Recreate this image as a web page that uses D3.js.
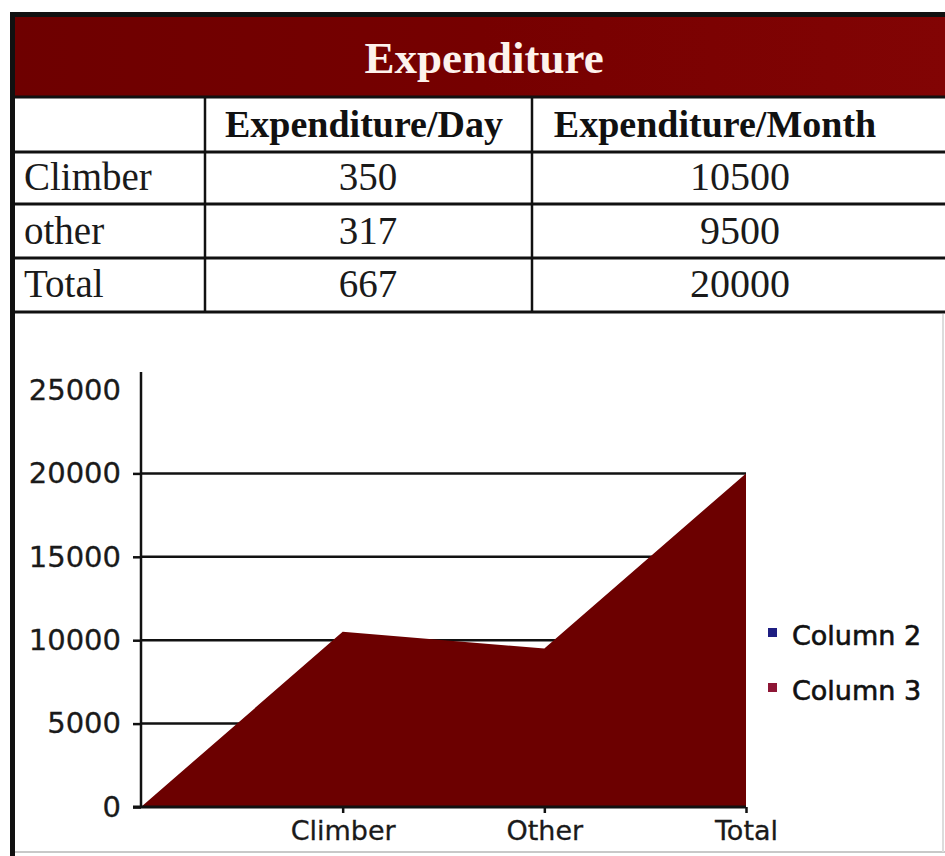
<!DOCTYPE html>
<html>
<head>
<meta charset="utf-8">
<script src="https://cdn.jsdelivr.net/npm/d3@7/dist/d3.min.js"></script>
<style>
  body { margin: 0; background: #fff; }
  svg { display: block; }
</style>
</head>
<body>
<div id="root"></div>
<script>
// table contents
const title = "Expenditure";
const headers = ["", "Expenditure/Day", "Expenditure/Month"];
const rowLabels = ["Climber", "other", "Total"];
const perDay = [350, 317, 667];
const perMonth = [10500, 9500, 20000];

// chart series (first category is the blank start at the axis)
const categories = ["", "Climber", "Other", "Total"];
const column2 = [0, 350, 317, 667];
const column3 = [0, 10500, 9500, 20000];
const yTicks = [0, 5000, 10000, 15000, 20000, 25000];
const legendItems = [
  { name: "Column 2", color: "#1e1e82" },
  { name: "Column 3", color: "#8e1636" }
];

const width = 945, height = 856;
const svg = d3.select("#root").append("svg").attr("width", width).attr("height", height);

// ---- title bar + frame
const defs = svg.append("defs");
const grad = defs.append("linearGradient").attr("id", "barGrad");
grad.append("stop").attr("offset", "0%").attr("stop-color", "#6e0000");
grad.append("stop").attr("offset", "50%").attr("stop-color", "#760000");
grad.append("stop").attr("offset", "100%").attr("stop-color", "#820404");

svg.append("rect").attr("x", 15).attr("y", 17).attr("width", width - 15).attr("height", 80)
  .attr("fill", "url(#barGrad)");
svg.append("text").attr("x", 484).attr("y", 73).attr("text-anchor", "middle")
  .attr("font-family", "Liberation Serif, Times New Roman, serif").attr("font-weight", "bold")
  .attr("font-size", 45).attr("fill", "#fdf2ec").text(title);

// ---- table
const rowEdges = [97, 152, 204, 258, 312];
const colEdges = [15, 205, 532, width];
const serif = "Liberation Serif, Times New Roman, serif";
const tg = svg.append("g");

rowEdges.forEach((y) => {
  tg.append("line").attr("x1", 15).attr("x2", width).attr("y1", y).attr("y2", y)
    .attr("stroke", "#111").attr("stroke-width", 3);
});
colEdges.slice(1, 3).forEach((x) => {
  tg.append("line").attr("x1", x).attr("x2", x).attr("y1", rowEdges[0]).attr("y2", rowEdges[4])
    .attr("stroke", "#111").attr("stroke-width", 2.5);
});

const headerX = [0, 364, 715];
headers.forEach((h, i) => {
  if (!h) return;
  tg.append("text").attr("x", headerX[i]).attr("y", 137).attr("text-anchor", "middle")
    .attr("font-family", serif).attr("font-weight", "bold").attr("font-size", 38)
    .attr("fill", "#111").text(h);
});

const baselines = [190, 244, 297];
rowLabels.forEach((label, i) => {
  tg.append("text").attr("x", 24).attr("y", baselines[i]).attr("font-family", serif)
    .attr("font-size", 39).attr("fill", "#1a1a1a").text(label);
  tg.append("text").attr("x", 368).attr("y", baselines[i]).attr("text-anchor", "middle")
    .attr("font-family", serif).attr("font-size", 39).attr("fill", "#1a1a1a").text(perDay[i]);
  tg.append("text").attr("x", 740).attr("y", baselines[i]).attr("text-anchor", "middle")
    .attr("font-family", serif).attr("font-size", 40).attr("fill", "#1a1a1a").text(perMonth[i]);
});

// outer frame
svg.append("rect").attr("x", 10).attr("y", 12).attr("width", width - 10).attr("height", 5).attr("fill", "#111");
svg.append("rect").attr("x", 10).attr("y", 12).attr("width", 5).attr("height", height - 12).attr("fill", "#111");
svg.append("line").attr("x1", 15).attr("x2", width).attr("y1", 852).attr("y2", 852)
  .attr("stroke", "#c8c8c8").attr("stroke-width", 2);
svg.append("line").attr("x1", 943).attr("x2", 943).attr("y1", 314).attr("y2", 852)
  .attr("stroke", "#dcdcdc").attr("stroke-width", 2);

// ---- area chart
const sans = "DejaVu Sans, Verdana, sans-serif";
const x = d3.scalePoint().domain(categories).range([141, 746]);
const y = d3.scaleLinear().domain([0, 25000]).range([807, 390]);

const cg = svg.append("g");

// gridlines
cg.selectAll("line.grid").data(yTicks.filter((t) => t > 0 && t < 25000)).join("line")
  .attr("class", "grid")
  .attr("x1", x(categories[0])).attr("x2", x(categories[categories.length - 1]))
  .attr("y1", (d) => y(d)).attr("y2", (d) => y(d))
  .attr("stroke", "#111").attr("stroke-width", 2.5);

const area = d3.area().x((d, i) => x(categories[i])).y0(y(0)).y1((d) => y(d));
cg.append("path").datum(column2).attr("d", area).attr("fill", legendItems[0].color);
cg.append("path").datum(column3).attr("d", area).attr("fill", "#6c0000");

// y axis
const yAxis = cg.append("g").attr("transform", `translate(${x(categories[0])},0)`)
  .call(d3.axisLeft(y).tickValues(yTicks).tickSize(8).tickPadding(12).tickFormat(d3.format("d")));
yAxis.select(".domain").remove();
yAxis.selectAll(".tick line").attr("stroke", "#111").attr("stroke-width", 2.5)
  .attr("display", (d) => (d === 25000 ? "none" : null));
yAxis.selectAll(".tick text").attr("font-family", sans).attr("font-size", 29).attr("fill", "#1a1a1a")
  .attr("stroke", "#1a1a1a").attr("stroke-width", 0.3);
cg.append("line").attr("x1", x(categories[0])).attr("x2", x(categories[0]))
  .attr("y1", y(0)).attr("y2", y(25000) - 18).attr("stroke", "#111").attr("stroke-width", 2.5);

// x axis
const xAxis = cg.append("g").attr("transform", `translate(0,${y(0)})`)
  .call(d3.axisBottom(x).tickValues(categories.slice(1)).tickSize(6).tickPadding(8));
xAxis.select(".domain").attr("d", `M${x(categories[0]) - 8},0H${x(categories[categories.length - 1])}`)
  .attr("stroke", "#111").attr("stroke-width", 3);
xAxis.selectAll(".tick line").attr("stroke", "#111").attr("stroke-width", 2.5);
xAxis.selectAll(".tick text").attr("font-family", sans).attr("font-size", 27).attr("fill", "#1a1a1a")
  .attr("stroke", "#1a1a1a").attr("stroke-width", 0.3);

// legend
const lg = svg.append("g").attr("transform", "translate(768,628)");
legendItems.forEach((item, i) => {
  const row = lg.append("g").attr("transform", `translate(0,${i * 55})`);
  row.append("rect").attr("width", 9).attr("height", 9).attr("fill", item.color);
  row.append("text").attr("x", 24).attr("y", 17).attr("font-family", sans)
    .attr("font-size", 27).attr("fill", "#111").attr("stroke", "#111").attr("stroke-width", 0.6)
    .text(item.name);
});
</script>
</body>
</html>
